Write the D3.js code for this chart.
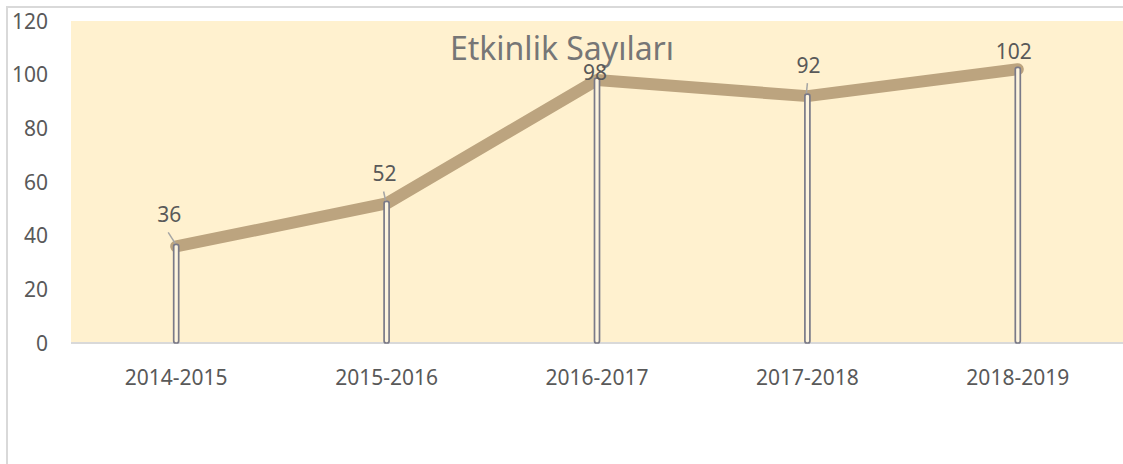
<!DOCTYPE html>
<html>
<head>
<meta charset="utf-8">
<script src="https://cdn.jsdelivr.net/npm/d3@7"></script>
<style>
  body { margin: 0; background: #fff; }
  text { font-family: "Noto Sans", sans-serif; }
</style>
</head>
<body>
<svg id="chart"></svg>
<script>
const seasons = ["2014-2015", "2015-2016", "2016-2017", "2017-2018", "2018-2019"];
const eventCounts = [36, 52, 98, 92, 102];
const yTicks = [0, 20, 40, 60, 80, 100, 120];
const title = "Etkinlik Sayıları";

// label placement (Excel moved them by hand)
const labelOffsets = [[-7, -24], [-2, -22], [-2, 0], [1, -23], [-4, -10]];
const leaders = [true, true, false, true, false];

const W = 1123, H = 464;
const margin = { top: 21, right: 0, bottom: 121, left: 71 };
const width = W - margin.left - margin.right;
const height = H - margin.top - margin.bottom;

const svg = d3.select("#chart").attr("width", W).attr("height", H);

// outer frame (only left and top visible)
svg.append("path")
  .attr("d", `M7,${H} L7,7 L${W},7`)
  .attr("fill", "none")
  .attr("stroke", "#d9d9d9")
  .attr("stroke-width", 2);

const g = svg.append("g").attr("transform", `translate(${margin.left},${margin.top})`);

const x = d3.scaleBand().domain(seasons).range([0, width]);
const y = d3.scaleLinear().domain([0, 120]).range([height, 0]);

g.append("rect")
  .attr("width", width)
  .attr("height", height)
  .attr("fill", "#fff1cf");

const cx = (s) => x(s) + x.bandwidth() / 2;

// y axis labels
g.selectAll(".ytick")
  .data(yTicks)
  .enter()
  .append("text")
  .attr("x", -23)
  .attr("y", (d) => y(d))
  .attr("dy", "0.36em")
  .attr("text-anchor", "end")
  .attr("font-size", 21)
  .attr("fill", "#595959")
  .text((d) => d);

// x axis line
g.append("line")
  .attr("x1", 0).attr("x2", width)
  .attr("y1", height).attr("y2", height)
  .attr("stroke", "#d9d9d9")
  .attr("stroke-width", 2);

g.selectAll(".xtick")
  .data(seasons)
  .enter()
  .append("text")
  .attr("x", (d) => cx(d))
  .attr("y", height + 42)
  .attr("text-anchor", "middle")
  .attr("font-size", 21)
  .attr("fill", "#595959")
  .text((d) => d);

// title
g.append("text")
  .attr("x", 491)
  .attr("y", 39)
  .attr("text-anchor", "middle")
  .attr("font-size", 32)
  .attr("fill", "#767676")
  .text(title);

const pts = seasons.map((s, i) => ({ s, v: eventCounts[i], i }));

const line = d3.line().x((d) => cx(d.s)).y((d) => y(d.v));
g.append("path")
  .datum(pts)
  .attr("d", line)
  .attr("fill", "none")
  .attr("stroke", "#bca47f")
  .attr("stroke-width", 12)
  .attr("stroke-linecap", "round")
  .attr("stroke-linejoin", "round");

// drop lines
g.selectAll(".drop")
  .data(pts)
  .enter()
  .append("rect")
  .attr("x", (d) => cx(d.s) - 2.5)
  .attr("y", (d) => y(d.v) - 2)
  .attr("width", 5)
  .attr("height", (d) => height - y(d.v) + 2)
  .attr("rx", 2)
  .attr("fill", "#fdf4de")
  .attr("stroke", "#7a7a88")
  .attr("stroke-width", 1.7);

// leader lines
g.selectAll(".leader")
  .data(pts.filter((d) => leaders[d.i]))
  .enter()
  .append("line")
  .attr("x1", (d) => cx(d.s) + labelOffsets[d.i][0] - 1)
  .attr("y1", (d) => y(d.v) + labelOffsets[d.i][1] + 10)
  .attr("x2", (d) => cx(d.s) - 1)
  .attr("y2", (d) => y(d.v) - 3)
  .attr("stroke", "#a5a5a5")
  .attr("stroke-width", 1.5);

// data labels
g.selectAll(".label")
  .data(pts)
  .enter()
  .append("text")
  .attr("x", (d) => cx(d.s) + labelOffsets[d.i][0])
  .attr("y", (d) => y(d.v) + labelOffsets[d.i][1])
  .attr("text-anchor", "middle")
  .attr("font-size", 21)
  .attr("fill", "#595959")
  .text((d) => d.v);
</script>
</body>
</html>
